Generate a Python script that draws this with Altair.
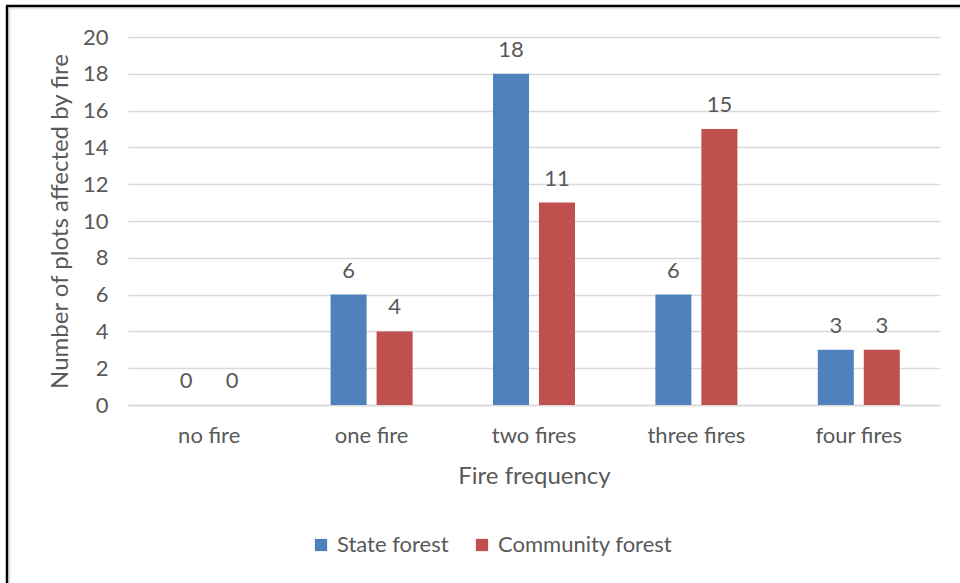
import altair as alt
import pandas as pd

# Fire frequency classes and the number of plots affected, by forest type
categories = ["no fire", "one fire", "two fires", "three fires", "four fires"]
series = ["State forest", "Community forest"]
state_forest = [0, 6, 18, 6, 3]
community_forest = [0, 4, 11, 15, 3]
colors = ["#4F81BD", "#C0504D"]
y_ticks = [0, 2, 4, 6, 8, 10, 12, 14, 16, 18, 20]

rows = []
for i, cat in enumerate(categories):
    rows.append({"freq": cat, "forest": series[0], "plots": state_forest[i]})
    rows.append({"freq": cat, "forest": series[1], "plots": community_forest[i]})
df = pd.DataFrame(rows)

FONT = "Lato"
GREY = "#595959"
W, H = 812, 368
PAD = {"left": 128, "top": 37, "right": 20, "bottom": 178}

x = alt.X("freq:N", sort=categories,
          scale=alt.Scale(paddingInner=0.495, paddingOuter=0.2475),
          axis=alt.Axis(title="Fire frequency", labelAngle=0, ticks=False,
                        domainColor="#D9D9D9", domainWidth=1.5,
                        labelPadding=20, titlePadding=18))
xoff = alt.XOffset("forest:N", sort=series,
                   scale=alt.Scale(paddingInner=0.217, paddingOuter=0))
y = alt.Y("plots:Q", scale=alt.Scale(domain=[0, 20]),
          axis=alt.Axis(title="Number of plots affected  by fire", values=y_ticks,
                        labelOverlap=False,
                        ticks=False, domain=False, gridColor="#D9D9D9", gridWidth=1.5,
                        labelPadding=20, titlePadding=10))

bars = alt.Chart(df).mark_bar().encode(
    x=x, xOffset=xoff, y=y,
    color=alt.Color("forest:N", sort=series,
                    scale=alt.Scale(domain=series, range=colors),
                    legend=alt.Legend(title=None, orient="none", direction="horizontal",
                                      legendX=182, legendY=497, symbolType="square",
                                      symbolSize=150, symbolStrokeWidth=0, labelLimit=400,
                                      columnPadding=22, labelOffset=5)),
)

labels = alt.Chart(df).mark_text(baseline="bottom", dy=-12, fontSize=22, color=GREY,
                                 font=FONT).encode(
    x=x, xOffset=xoff, y=y, text="plots:Q",
)

# Frame line along the top and left edge of the figure
border_df = pd.DataFrame({"k": [0]})
left_edge = alt.Chart(border_df).mark_rule(color="black", strokeWidth=2.5).encode(
    x=alt.value(-121), y=alt.value(-31), y2=alt.value(600))
top_edge = alt.Chart(border_df).mark_rule(color="black", strokeWidth=2.5).encode(
    x=alt.value(-122), x2=alt.value(900), y=alt.value(-31))
left_shade = alt.Chart(border_df).mark_rule(color="#E6E6E6", strokeWidth=2).encode(
    x=alt.value(-118.5), y=alt.value(-29), y2=alt.value(600))
top_shade = alt.Chart(border_df).mark_rule(color="#E6E6E6", strokeWidth=2).encode(
    x=alt.value(-119), x2=alt.value(900), y=alt.value(-28.5))

chart = alt.layer(bars, labels, left_shade, top_shade, left_edge, top_edge).properties(
    width=W, height=H, padding=PAD,
    autosize=alt.AutoSizeParams(type="none"),
    background="white",
).configure_view(stroke=None).configure_axis(
    labelFont=FONT, titleFont=FONT, labelFontSize=22, titleFontSize=24,
    labelColor=GREY, titleColor=GREY, titleFontWeight="normal",
).configure_legend(
    labelFont=FONT, labelFontSize=22, labelColor=GREY,
)

chart.save("out.html", embed_options={"renderer": "svg", "actions": False})
